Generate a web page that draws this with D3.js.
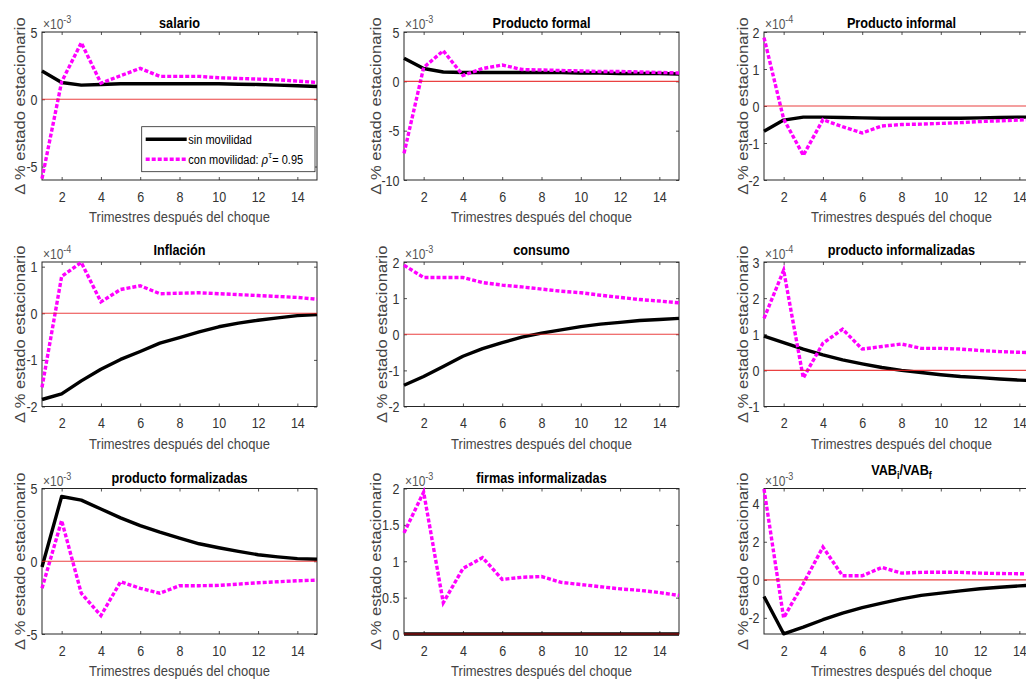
<!DOCTYPE html>
<html>
<head>
<meta charset="utf-8">
<script src="https://cdn.jsdelivr.net/npm/d3@7"></script>
<style>
  body { margin: 0; background: #fff; }
  svg { display: block; font-family: "Liberation Sans", Arial, Helvetica, sans-serif; }
</style>
</head>
<body>
<svg id="fig" width="1026" height="679"></svg>
<script>
// Quarters after the shock and the x tick values
const quarters = [1, 2, 3, 4, 5, 6, 7, 8, 9, 10, 11, 12, 13, 14, 15];
const xTicks = [2, 4, 6, 8, 10, 12, 14];

// Impulse responses (in units of the exponent shown on each axis)
const salarioSin = [2.1, 1.25, 1.05, 1.1, 1.15, 1.15, 1.15, 1.15, 1.15, 1.15, 1.12, 1.1, 1.05, 1.0, 0.95];
const salarioCon = [-5.9, 1.3, 4.2, 1.2, 1.75, 2.3, 1.7, 1.7, 1.7, 1.6, 1.55, 1.5, 1.45, 1.35, 1.25];
const formalSin = [2.35, 1.3, 0.95, 0.9, 0.9, 0.9, 0.9, 0.9, 0.9, 0.85, 0.85, 0.8, 0.8, 0.8, 0.75];
const formalCon = [-7.3, 1.4, 3.1, 0.6, 1.3, 1.65, 1.2, 1.15, 1.1, 1.05, 1.0, 1.0, 0.95, 0.9, 0.85];
const informalSin = [-0.68, -0.38, -0.3, -0.3, -0.31, -0.32, -0.33, -0.33, -0.33, -0.33, -0.33, -0.32, -0.31, -0.3, -0.3];
const informalCon = [1.85, -0.35, -1.33, -0.37, -0.56, -0.73, -0.54, -0.5, -0.49, -0.47, -0.45, -0.42, -0.4, -0.38, -0.36];
const inflacionSin = [-1.85, -1.73, -1.45, -1.2, -0.99, -0.82, -0.64, -0.52, -0.4, -0.29, -0.21, -0.15, -0.1, -0.05, -0.03];
const inflacionCon = [-1.59, 0.79, 1.09, 0.245, 0.51, 0.59, 0.42, 0.43, 0.44, 0.42, 0.4, 0.38, 0.36, 0.34, 0.3];
const consumoSin = [-1.41, -1.17, -0.89, -0.61, -0.4, -0.23, -0.08, 0.03, 0.12, 0.21, 0.28, 0.33, 0.38, 0.41, 0.44];
const consumoCon = [1.91, 1.57, 1.57, 1.57, 1.43, 1.36, 1.31, 1.25, 1.19, 1.15, 1.08, 1.02, 0.96, 0.92, 0.87];
const prodInformalizadasSin = [0.95, 0.77, 0.59, 0.43, 0.29, 0.18, 0.08, 0.0, -0.06, -0.12, -0.17, -0.2, -0.24, -0.27, -0.29];
const prodInformalizadasCon = [1.44, 2.77, -0.21, 0.75, 1.14, 0.59, 0.66, 0.73, 0.61, 0.61, 0.59, 0.55, 0.52, 0.5, 0.48];
const prodFormalizadasSin = [-0.39, 4.45, 4.2, 3.59, 2.98, 2.45, 2.0, 1.59, 1.2, 0.93, 0.68, 0.45, 0.3, 0.18, 0.14];
const prodFormalizadasCon = [-1.86, 2.8, -2.2, -3.73, -1.41, -1.86, -2.2, -1.68, -1.68, -1.66, -1.57, -1.48, -1.41, -1.34, -1.3];
const firmasSin = [0, 0, 0, 0, 0, 0, 0, 0, 0, 0, 0, 0, 0, 0, 0];
const firmasCon = [1.39, 1.95, 0.43, 0.9, 1.05, 0.75, 0.78, 0.79, 0.71, 0.68, 0.65, 0.62, 0.6, 0.57, 0.53];
const vabSin = [-0.88, -2.84, -2.49, -2.1, -1.75, -1.46, -1.23, -1.0, -0.82, -0.7, -0.58, -0.47, -0.39, -0.32, -0.27];
const vabCon = [4.77, -2.0, -0.2, 1.72, 0.21, 0.21, 0.65, 0.35, 0.39, 0.4, 0.39, 0.35, 0.33, 0.32, 0.3];

const panelTitles = ["salario", "Producto formal", "Producto informal", "Inflación", "consumo",
  "producto informalizadas", "producto formalizadas", "firmas informalizadas", "VAB_i/VAB_f"];
const panelExponents = ["-3", "-3", "-4", "-4", "-3", "-4", "-3", "-3", "-3"];
const panelYLimits = [[-6, 5], [-10, 5], [-2, 2], [-2, 1.1], [-2, 2], [-1, 3], [-5, 5], [0, 2], [-2.85, 4.8]];
const panelYTicks = [[-5, 0, 5], [-10, -5, 0, 5], [-2, -1, 0, 1, 2], [-2, -1, 0, 1], [-2, -1, 0, 1, 2],
  [-1, 0, 1, 2, 3], [-5, 0, 5], [0, 0.5, 1, 1.5, 2], [-2, 0, 2, 4]];
const sinSeries = [salarioSin, formalSin, informalSin, inflacionSin, consumoSin, prodInformalizadasSin, prodFormalizadasSin, firmasSin, vabSin];
const conSeries = [salarioCon, formalCon, informalCon, inflacionCon, consumoCon, prodInformalizadasCon, prodFormalizadasCon, firmasCon, vabCon];
const legendLabels = ["sin movilidad", "con movilidad: "];
const xLabel = "Trimestres después del choque";
const yLabel = "Δ % estado estacionario";

// Layout of the 3x3 grid of axes
const colLeft = [42, 404, 764];
const plotW = 275;
const rowTop = [32, 262, 488.5];
const rowBottom = [180, 406.5, 634];
const titleGap = [4.5, 7, 6];
const yLabelGap = [17.5, 23.5, 16, 17.5, 17.5, 16, 17.5, 23, 16];
const SY = 1.15;               // vertical stretch applied to all text
const axisColor = "#262626";
const textColor = "#333";

const svg = d3.select("#fig");
svg.append("rect").attr("width", 1026).attr("height", 679).attr("fill", "#fff");

function stretched(g, x, y) {
  return g.append("text").attr("transform", `translate(${x},${y}) scale(1,${SY})`);
}

panelTitles.forEach((title, i) => {
  const col = i % 3, row = Math.floor(i / 3);
  const L = colLeft[col], R = L + plotW, T = rowTop[row], B = rowBottom[row];
  const g = svg.append("g");

  const x = d3.scaleLinear().domain([quarters[0], quarters[quarters.length - 1]]).range([L, R]);
  const y = d3.scaleLinear().domain(panelYLimits[i]).range([B, T]);

  // axes box
  g.append("rect").attr("x", L).attr("y", T).attr("width", R - L).attr("height", B - T)
    .attr("fill", "none").attr("stroke", axisColor).attr("stroke-width", 1);

  // bottom axis with labels, inward ticks
  const gx = g.append("g").attr("transform", `translate(0,${B})`)
    .call(d3.axisBottom(x).tickValues(xTicks).tickSize(-3).tickSizeOuter(0).tickFormat(d => String(d)));
  gx.select(".domain").remove();
  gx.selectAll("line").attr("stroke", axisColor).attr("stroke-width", 0.8);
  gx.selectAll("text").attr("y", 0).attr("dy", null)
    .attr("transform", `translate(0,21.5) scale(1,${SY})`)
    .attr("font-size", 12.5).attr("fill", textColor).attr("font-family", null);

  // top ticks
  const gxt = g.append("g").attr("transform", `translate(0,${T})`)
    .call(d3.axisTop(x).tickValues(xTicks).tickSize(-3).tickSizeOuter(0).tickFormat(""));
  gxt.select(".domain").remove();
  gxt.selectAll("line").attr("stroke", axisColor).attr("stroke-width", 0.8);

  // left axis with labels
  const gy = g.append("g").attr("transform", `translate(${L},0)`)
    .call(d3.axisLeft(y).tickValues(panelYTicks[i]).tickSize(-3).tickSizeOuter(0).tickFormat(d => String(d)));
  gy.select(".domain").remove();
  gy.selectAll("line").attr("stroke", axisColor).attr("stroke-width", 0.8);
  gy.selectAll("text").attr("x", 0).attr("dy", null)
    .attr("transform", `translate(-4.5,5) scale(1,${SY})`)
    .attr("font-size", 12.5).attr("fill", textColor).attr("font-family", null);

  // right ticks
  const gyr = g.append("g").attr("transform", `translate(${R},0)`)
    .call(d3.axisRight(y).tickValues(panelYTicks[i]).tickSize(-3).tickSizeOuter(0).tickFormat(""));
  gyr.select(".domain").remove();
  gyr.selectAll("line").attr("stroke", axisColor).attr("stroke-width", 0.8);

  // series
  const line = d3.line().x((d, k) => x(quarters[k])).y(d => y(d));
  g.append("path").datum(sinSeries[i]).attr("d", line)
    .attr("fill", "none").attr("stroke", "#000").attr("stroke-width", 3.4).attr("stroke-linejoin", "round");
  g.append("path").datum(conSeries[i]).attr("d", line)
    .attr("fill", "none").attr("stroke", "#ff00ff").attr("stroke-width", 3.4)
    .attr("stroke-dasharray", "4,2");

  // zero reference line
  g.append("line").attr("x1", x(1)).attr("x2", x(15)).attr("y1", y(0)).attr("y2", y(0))
    .attr("stroke", "#e62020").attr("stroke-width", 1.2).attr("stroke-opacity", 0.85);

  // title
  const t = stretched(g, (L + R) / 2, T - titleGap[row])
    .attr("text-anchor", "middle").attr("font-weight", "bold").attr("font-size", 12.7).attr("fill", "#000");
  if (title.includes("_")) {
    const parts = title.split(/_(\w)/);
    t.attr("transform", `translate(${(L + R) / 2},${T - titleGap[row] - 8}) scale(1,${SY})`);
    t.append("tspan").text(parts[0]);
    t.append("tspan").attr("dy", 4).attr("font-size", 9).text(parts[1]);
    t.append("tspan").attr("dy", -4).text(parts[2]);
    t.append("tspan").attr("dy", 4).attr("font-size", 9).text(parts[3]);
  } else {
    t.text(title);
  }

  // exponent label
  const e = stretched(g, L + 1, T - 3).attr("font-size", 12).attr("fill", "#555");
  e.append("tspan").text("×10");
  e.append("tspan").attr("dy", -5).attr("font-size", 9).text(panelExponents[i]);

  // axis labels
  stretched(g, (L + R) / 2, B + 42).attr("text-anchor", "middle")
    .attr("font-size", 13).attr("fill", "#444").text(xLabel);
  g.append("text")
    .attr("transform", `translate(${L - yLabelGap[i]},${(T + B) / 2}) scale(1,${SY}) rotate(-90)`)
    .attr("text-anchor", "middle").attr("font-size", 14.4).attr("fill", "#444").text(yLabel);
});

// legend in the first panel
(function () {
  const lg = svg.append("g");
  lg.append("rect").attr("x", 141.7).attr("y", 126.7).attr("width", 173.3).attr("height", 45)
    .attr("fill", "#fff").attr("stroke", axisColor).attr("stroke-width", 0.8);
  lg.append("line").attr("x1", 145.7).attr("x2", 186.7).attr("y1", 139.3).attr("y2", 139.3)
    .attr("stroke", "#000").attr("stroke-width", 3.4);
  lg.append("line").attr("x1", 145.7).attr("x2", 186.7).attr("y1", 159.3).attr("y2", 159.3)
    .attr("stroke", "#ff00ff").attr("stroke-width", 3.4).attr("stroke-dasharray", "4,2");
  stretched(lg, 188.3, 143.5).attr("font-size", 11).attr("fill", "#000").text(legendLabels[0]);
  const t2 = stretched(lg, 188.3, 164).attr("font-size", 11).attr("fill", "#000");
  t2.append("tspan").text(legendLabels[1]);
  t2.append("tspan").attr("font-style", "italic").attr("font-family", "DejaVu Serif").text("ρ");
  t2.append("tspan").attr("dy", -5).attr("font-size", 7.5).attr("font-style", "italic")
    .attr("font-family", "DejaVu Serif").text("τ");
  t2.append("tspan").attr("dy", 5).text("= 0.95");
})();
</script>
</body>
</html>
